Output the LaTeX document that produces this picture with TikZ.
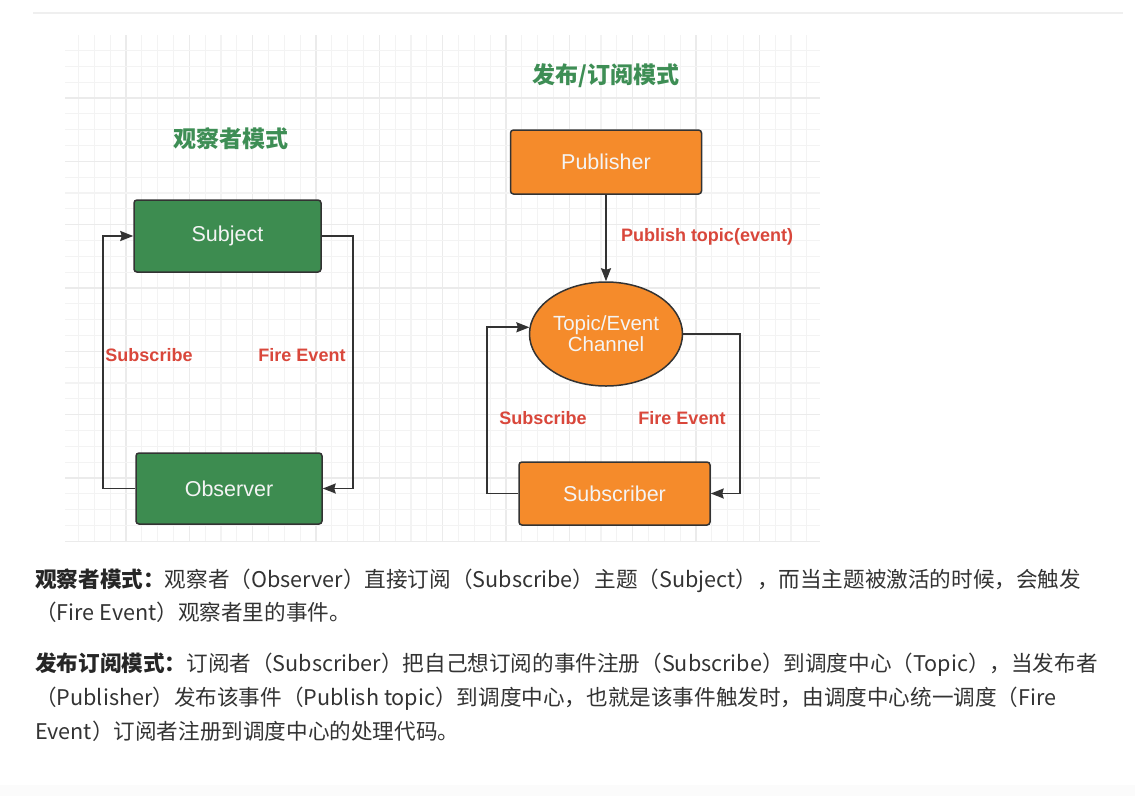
\documentclass[tikz,border=0pt]{standalone}
\usepackage{fontspec}
\setmainfont{Liberation Sans}
\newfontfamily\cjk{Noto Sans CJK SC}
\usetikzlibrary{arrows.meta,shapes.geometric}
\definecolor{gfill}{HTML}{3D8C50}
\definecolor{gtitle}{HTML}{3E8E55}
\definecolor{ofill}{HTML}{F58B2B}
\definecolor{rlabel}{HTML}{D9473B}
\definecolor{lncol}{HTML}{333333}
\definecolor{boxtxt}{HTML}{F4F4F4}
\definecolor{txt}{HTML}{333333}
\definecolor{gridminor}{HTML}{F3F3F3}
\definecolor{gridmajor}{HTML}{EBEBEB}
\definecolor{topline}{HTML}{EFEFEF}
\tikzset{
  box/.style={draw=lncol, line width=1.5pt, rounded corners=3pt, text=boxtxt,
    font=\fontsize{21.5}{24}\selectfont, inner sep=0pt},
  gbox/.style={box, fill=gfill},
  obox/.style={box, fill=ofill},
  ell/.style={ellipse, draw=lncol, line width=1.5pt, fill=ofill, text=boxtxt,
    font=\fontsize{20.5}{22}\selectfont, align=center, inner sep=0pt,
    minimum width=153pt, minimum height=104pt},
  conn/.style={draw=lncol, line width=1.7pt, -{Stealth[length=13pt,width=10pt,inset=1.5pt]}},
  lbl/.style={text=rlabel, font=\fontsize{18}{20}\selectfont\bfseries, inner sep=0pt},
  ttl/.style={text=gtitle, font=\fontsize{23}{26}\selectfont\cjk\bfseries, inner sep=0pt},
  para/.style={text=txt, font=\fontsize{21.6}{26}\selectfont\cjk, inner sep=0pt, anchor=base west}
}
\begin{document}
\begin{tikzpicture}[x=1pt,y=-1pt]
\useasboundingbox (0,0) rectangle (1135,796);
\fill[white] (0,0) rectangle (1135,796);
\fill[black!1.5] (0,785) rectangle (1135,796);
\draw[topline, line width=2pt] (33,13) -- (1123,13);
% grid
\foreach \k in {0,...,46}{
  \pgfmathsetmacro\gx{78.5+15.833*\k}
  \pgfmathtruncatemacro\m{mod(\k,4)}
  \ifnum\m=3
    \draw[gridmajor, line width=1.3pt] (\gx,35) -- (\gx,542);
  \else
    \draw[gridminor, line width=1.2pt] (\gx,35) -- (\gx,542);
  \fi
}
\foreach \k in {0,...,31}{
  \pgfmathsetmacro\gy{50.5+15.833*\k}
  \pgfmathtruncatemacro\m{mod(\k,4)}
  \ifnum\m=3
    \draw[gridmajor, line width=1.3pt] (65,\gy) -- (820,\gy);
  \else
    \draw[gridminor, line width=1.2pt] (65,\gy) -- (820,\gy);
  \fi
}
% titles
\node[ttl] (t1) at (231,139) {观察者模式};
\node[ttl] (t2) at (606,76) {发布/订阅模式};
% observer pattern
\node[gbox, minimum width=187pt, minimum height=72pt] (subj) at (227.5,236) {Subject};
\node[gbox, minimum width=186pt, minimum height=71pt] (obs) at (229,488.5) {Observer};
\coordinate (lx) at (103,0);
\coordinate (rx) at (353,0);
\draw[conn] (obs.west) -- (obs.west -| lx) |- (subj.west);
\draw[conn] (subj.east) -- (subj.east -| rx) |- (obs.east);
\node[lbl] (l1) at (149,355) {Subscribe};
\node[lbl] (l2) at (302,355) {Fire Event};
% pub/sub pattern
\node[obox, minimum width=191pt, minimum height=64pt] (pub) at (606,162) {Publisher};
\node[ell] (topic) at (606,334) {Topic/Event\\[-1pt]Channel};
\node[obox, minimum width=191pt, minimum height=63pt] (sub) at (614.5,493.5) {Subscriber};
\coordinate (slx) at (487,0);
\coordinate (srx) at (740,0);
\draw[conn] (pub.south) -- (topic.north);
\draw[conn] (sub.west) -- (sub.west -| slx) |- (topic.175);
\draw[conn] (topic.east) -- (topic.east -| srx) |- (sub.east);
\node[lbl] (l3) at (707,237) {Publish topic(event)};
\node[lbl] (l4) at (543,418) {Subscribe};
\node[lbl] (l5) at (682,418) {Fire Event};
% paragraphs
\node[para] (p1a) at (35,587) {{\bfseries\color{black!85}观察者模式：}观察者（Observer）直接订阅（Subscribe）主题（Subject），而当主题被激活的时候，会触发};
\node[para] (p1b) at (35,620) {（Fire Event）观察者里的事件。};
\node[para] (p2a) at (35,671) {{\bfseries\color{black!85}发布订阅模式：}订阅者（Subscriber）把自己想订阅的事件注册（Subscribe）到调度中心（Topic），当发布者};
\node[para] (p2b) at (35,705) {（Publisher）发布该事件（Publish topic）到调度中心，也就是该事件触发时，由调度中心统一调度（Fire};
\node[para] (p2c) at (35,739) {Event）订阅者注册到调度中心的处理代码。};
\end{tikzpicture}
\end{document}
